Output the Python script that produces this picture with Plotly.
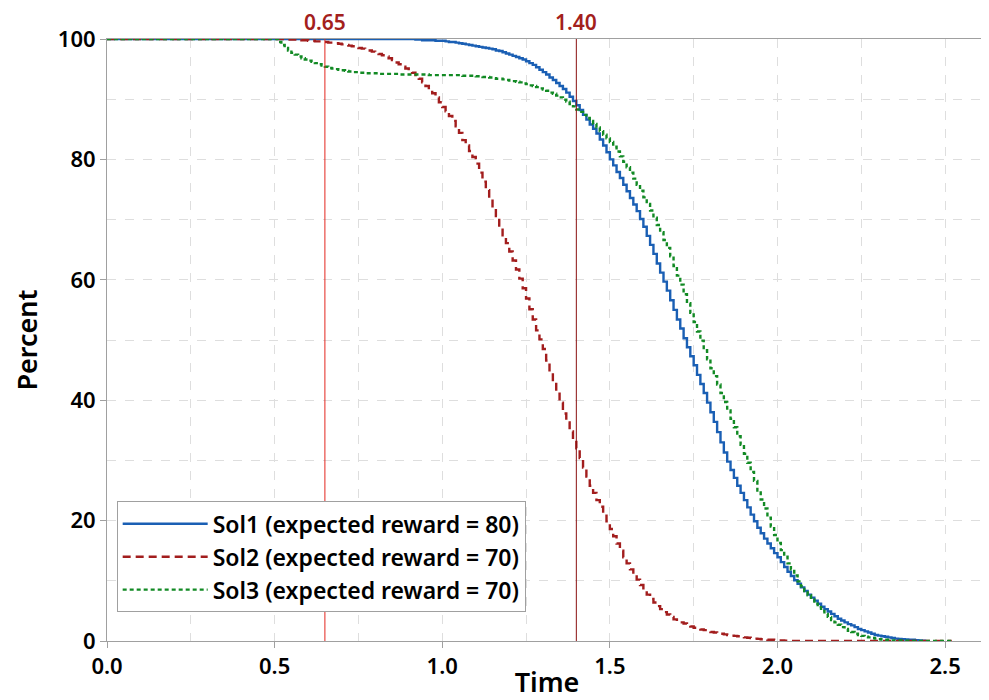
import plotly.graph_objs as go

# time points of the step curves
time = [0.0,
        0.50, 0.51, 0.52, 0.53, 0.54, 0.55, 0.56, 0.57, 0.58, 0.59,
        0.60, 0.61, 0.62, 0.63, 0.64, 0.65, 0.66, 0.67, 0.68, 0.69,
        0.70, 0.71, 0.72, 0.73, 0.74, 0.75, 0.76, 0.77, 0.78, 0.79,
        0.80, 0.81, 0.82, 0.83, 0.84, 0.85, 0.86, 0.87, 0.88, 0.89,
        0.90, 0.91, 0.92, 0.93, 0.94, 0.95, 0.96, 0.97, 0.98, 0.99,
        1.00, 1.01, 1.02, 1.03, 1.04, 1.05, 1.06, 1.07, 1.08, 1.09,
        1.10, 1.11, 1.12, 1.13, 1.14, 1.15, 1.16, 1.17, 1.18, 1.19,
        1.20, 1.21, 1.22, 1.23, 1.24, 1.25, 1.26, 1.27, 1.28, 1.29,
        1.30, 1.31, 1.32, 1.33, 1.34, 1.35, 1.36, 1.37, 1.38, 1.39,
        1.40, 1.41, 1.42, 1.43, 1.44, 1.45, 1.46, 1.47, 1.48, 1.49,
        1.50, 1.51, 1.52, 1.53, 1.54, 1.55, 1.56, 1.57, 1.58, 1.59,
        1.60, 1.61, 1.62, 1.63, 1.64, 1.65, 1.66, 1.67, 1.68, 1.69,
        1.70, 1.71, 1.72, 1.73, 1.74, 1.75, 1.76, 1.77, 1.78, 1.79,
        1.80, 1.81, 1.82, 1.83, 1.84, 1.85, 1.86, 1.87, 1.88, 1.89,
        1.90, 1.91, 1.92, 1.93, 1.94, 1.95, 1.96, 1.97, 1.98, 1.99,
        2.00, 2.01, 2.02, 2.03, 2.04, 2.05, 2.06, 2.07, 2.08, 2.09,
        2.10, 2.11, 2.12, 2.13, 2.14, 2.15, 2.16, 2.17, 2.18, 2.19,
        2.20, 2.21, 2.22, 2.23, 2.24, 2.25, 2.26, 2.27, 2.28, 2.29,
        2.30, 2.31, 2.32, 2.33, 2.34, 2.35, 2.36, 2.37, 2.38, 2.39,
        2.40, 2.41, 2.42, 2.43, 2.44, 2.45, 2.46, 2.47, 2.48, 2.49,
        2.50, 2.51, 2.52]

sol1 = [100,
        100, 100, 100, 100, 100, 100, 100, 100, 100, 100,
        100, 100, 100, 100, 100, 100, 100, 100, 100, 100,
        100, 100, 100, 100, 100, 100, 100, 100, 100, 100,
        100, 100, 100, 100, 100, 100, 100, 100, 100, 100,
        100, 100, 99.9, 99.9, 99.8, 99.8, 99.8, 99.8, 99.7, 99.7,
        99.7, 99.6, 99.5, 99.5, 99.4, 99.3, 99.2, 99.1, 99.0, 98.9,
        98.8, 98.7, 98.6, 98.5, 98.4, 98.3, 98.1, 98.0, 97.8, 97.6,
        97.4, 97.2, 97.0, 96.8, 96.6, 96.3, 96.0, 95.7, 95.3, 94.9,
        94.5, 94.1, 93.6, 93.2, 92.7, 92.2, 91.7, 91.1, 90.4, 89.7,
        89.0, 88.2, 87.4, 86.6, 85.8, 85.1, 84.3, 83.3, 82.3, 81.2,
        80.0, 79.0, 77.9, 76.9, 75.8, 74.7, 73.6, 72.5, 71.4, 70.1,
        68.8, 67.3, 65.8, 64.3, 62.7, 61.2, 59.7, 58.2, 56.6, 55.0,
        53.4, 51.9, 50.3, 48.8, 47.3, 45.8, 44.2, 42.7, 41.2, 39.6,
        38.0, 36.4, 34.7, 33.0, 31.3, 29.8, 28.4, 27.1, 25.8, 24.6,
        23.4, 22.2, 21.0, 19.9, 18.8, 17.9, 17.0, 16.2, 15.4, 14.6,
        13.9, 13.1, 12.3, 11.5, 10.8, 10.1, 9.5, 8.9, 8.3, 7.7,
        7.2, 6.7, 6.2, 5.7, 5.3, 4.9, 4.5, 4.1, 3.7, 3.4,
        3.1, 2.8, 2.6, 2.3, 2.0, 1.8, 1.6, 1.4, 1.2, 1.0,
        0.9, 0.8, 0.7, 0.6, 0.5, 0.4, 0.35, 0.3, 0.25, 0.2,
        0.2, 0.15, 0.1, 0.05, 0, None, None, None, None, None,
        None, None, None]

sol2 = [100,
        100, 100, 100, 100, 99.9, 99.9, 99.9, 99.9, 99.8, 99.8,
        99.7, 99.7, 99.6, 99.6, 99.5, 99.5, 99.4, 99.4, 99.3, 99.2,
        99.1, 99.0, 98.9, 98.8, 98.6, 98.5, 98.4, 98.3, 98.1, 97.9,
        97.7, 97.5, 97.3, 97.1, 96.8, 96.5, 96.1, 95.8, 95.4, 95.1,
        94.7, 94.4, 94.0, 93.4, 92.8, 92.2, 91.6, 91.0, 90.3, 89.5,
        88.7, 88.0, 87.2, 86.4, 85.5, 84.4, 83.2, 82.3, 81.4, 80.4,
        79.3, 77.8, 76.3, 74.9, 73.4, 72.0, 70.6, 69.0, 67.4, 66.1,
        64.7, 63.2, 61.7, 60.2, 58.6, 56.9, 55.1, 53.4, 51.6, 50.1,
        48.5, 46.6, 44.7, 43.0, 41.3, 39.6, 37.8, 36.3, 34.8, 33.4,
        32.0, 30.4, 28.8, 27.3, 25.8, 24.6, 23.4, 22.3, 21.2, 19.9,
        18.6, 17.4, 16.2, 15.0, 13.9, 12.9, 11.9, 11.0, 10.2, 9.3,
        8.5, 7.7, 7.0, 6.4, 5.8, 5.3, 4.8, 4.4, 4.0, 3.6,
        3.3, 3.1, 2.9, 2.6, 2.4, 2.2, 2.1, 1.9, 1.8, 1.6,
        1.5, 1.4, 1.3, 1.2, 1.1, 1.0, 0.9, 0.85, 0.8, 0.7,
        0.6, 0.55, 0.5, 0.4, 0.35, 0.3, 0.25, 0.2, 0.2, 0.15,
        0.1, 0.1, 0.05, 0.05, 0, 0, 0, 0, 0, 0,
        0, 0, 0, 0, 0, 0, 0, 0, 0, 0,
        0, 0, 0, 0, 0, 0, 0, 0, 0, 0,
        0, 0, 0, 0, 0, 0, 0, 0, 0, 0,
        0, 0, 0, 0, 0, 0, 0, 0, 0, 0,
        0, 0, 0]

sol3 = [100,
        100, 99.5, 99.0, 98.5, 98.1, 97.7, 97.4, 97.1, 96.8, 96.6,
        96.4, 96.2, 96.0, 95.8, 95.6, 95.4, 95.2, 95.1, 95.0, 94.9,
        94.8, 94.7, 94.6, 94.5, 94.5, 94.4, 94.4, 94.3, 94.3, 94.3,
        94.3, 94.2, 94.2, 94.2, 94.2, 94.2, 94.2, 94.1, 94.1, 94.1,
        94.1, 94.1, 94.1, 94.1, 94.1, 94.1, 94.0, 94.0, 94.0, 94.0,
        94.0, 94.0, 94.0, 94.0, 94.0, 94.0, 93.9, 93.9, 93.9, 93.9,
        93.8, 93.8, 93.7, 93.7, 93.6, 93.5, 93.4, 93.4, 93.3, 93.2,
        93.1, 93.0, 92.9, 92.8, 92.6, 92.5, 92.3, 92.2, 92.0, 91.8,
        91.6, 91.4, 91.1, 90.9, 90.6, 90.3, 89.9, 89.6, 89.2, 88.8,
        88.3, 87.9, 87.4, 86.9, 86.4, 85.9, 85.3, 84.7, 84.1, 83.5,
        82.9, 82.1, 81.3, 80.5, 79.6, 78.7, 77.8, 76.8, 75.8, 74.8,
        73.7, 72.6, 71.5, 70.3, 69.1, 67.9, 66.6, 65.3, 63.9, 62.3,
        60.7, 59.2, 57.6, 56.1, 54.5, 53.0, 51.4, 49.9, 48.3, 46.8,
        45.3, 44.0, 42.6, 41.2, 39.7, 38.3, 36.9, 35.5, 34.0, 32.6,
        31.1, 29.6, 28.1, 26.6, 25.0, 23.5, 22.0, 20.5, 19.0, 17.6,
        16.3, 15.1, 14.0, 12.9, 11.9, 10.9, 9.9, 9.1, 8.3, 7.6,
        6.9, 6.2, 5.6, 5.0, 4.5, 4.0, 3.5, 3.1, 2.7, 2.3,
        2.0, 1.7, 1.5, 1.2, 1.0, 0.85, 0.7, 0.6, 0.5, 0.4,
        0.3, 0.25, 0.2, 0.15, 0.1, 0.1, 0.1, 0.05, 0.05, 0,
        0, 0, 0, 0, 0, 0, 0, 0, 0, 0,
        0, 0, 0]

names = ["Sol1 (expected reward = 80)",
         "Sol2 (expected reward = 70)",
         "Sol3 (expected reward = 70)"]
marker_times = [0.65, 1.40]
marker_labels = ["0.65", "1.40"]

FONT = "Noto Sans"

fig = go.Figure()
styles = [("#1a5fb4", "solid"), ("#a21d1d", "8px,5px"), ("#128a24", "4px,3px")]
for vals, name, (col, dash) in zip([sol1, sol2, sol3], names, styles):
    fig.add_trace(go.Scatter(x=time, y=vals, name=name, mode="lines",
                             line=dict(color=col, width=2.4, dash=dash, shape="hv"),
                             connectgaps=False))

# reference lines
line_cols = ["#e3261f", "#8a1010"]
for t, lab, col in zip(marker_times, marker_labels, line_cols):
    fig.add_shape(type="line", x0=t, x1=t, y0=0, y1=100, xref="x", yref="y",
                  line=dict(color=col, width=1))
    fig.add_annotation(x=t, y=1, xref="x", yref="paper", text=lab, showarrow=False,
                       yanchor="bottom", yshift=1,
                       font=dict(family=FONT, size=21, color="#a3201c", weight=600))

grid = "#dedede"
# page has an 8px body margin, so the figure is shrunk and shifted accordingly
fig.update_layout(
    width=981, height=692,
    margin=dict(l=99, r=2, t=31, b=59),
    plot_bgcolor="white", paper_bgcolor="white",
    font=dict(family=FONT, size=22, color="black", weight=600),
    showlegend=True,
    legend=dict(x=0.011, y=0.232, xanchor="left", yanchor="top",
                bgcolor="white", bordercolor="#a0a0a0", borderwidth=1,
                font=dict(family=FONT, size=23, color="black", weight=600),
                itemwidth=85, tracegroupgap=0),
    xaxis=dict(range=[0, 2.625], tickvals=[0, 0.5, 1.0, 1.5, 2.0, 2.5],
               ticktext=["0.0", "0.5", "1.0", "1.5", "2.0", "2.5"],
               ticks="outside", ticklen=6, tickcolor="#a0a0a0",
               tickfont=dict(size=22),
               showline=True, linecolor="#a0a0a0", linewidth=1, mirror=True,
               showgrid=True, gridcolor=grid, griddash="dash",
               minor=dict(dtick=0.25, tick0=0, showgrid=True, gridcolor=grid,
                          griddash="dash", ticks=""),
               zeroline=False,
               title=dict(text="Time", font=dict(family=FONT, size=27, weight=600),
                          standoff=4),
               automargin=False),
    yaxis=dict(range=[0, 100], tickvals=[0, 20, 40, 60, 80, 100],
               ticks="outside", ticklen=6, tickcolor="#a0a0a0",
               tickfont=dict(size=22),
               showline=True, linecolor="#a0a0a0", linewidth=1,
               showgrid=True, gridcolor=grid, griddash="dash",
               minor=dict(dtick=10, tick0=0, showgrid=True, gridcolor=grid,
                          griddash="dash", ticks=""),
               zeroline=False,
               title=dict(text="Percent", font=dict(family=FONT, size=27, weight=600),
                          standoff=16),
               automargin=False),
)

fig.write_html("out.html")
